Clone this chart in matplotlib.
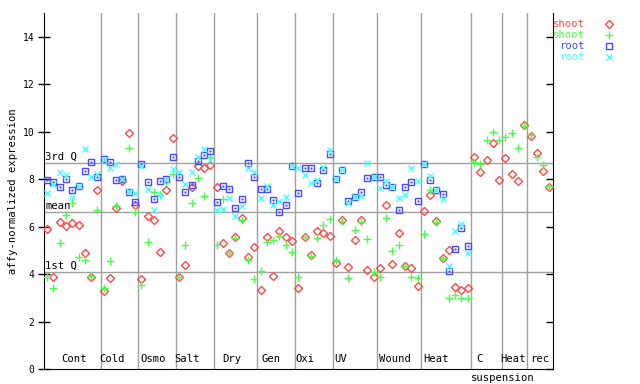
import matplotlib
matplotlib.use('Agg')
import matplotlib.pyplot as plt
import numpy as np

# groups along the x axis (one column per sample)
groups = ['Cont', 'Cold', 'Osmo', 'Salt', 'Dry', 'Gen', 'Oxi', 'UV', 'Wound', 'Heat', 'C', 'Heat', 'rec']
group_sizes = [9, 6, 6, 6, 7, 6, 6, 7, 7, 8, 5, 4, 4]

# shoot replicate 1 (red) and 2 (green)
shoot_a = [5.89, 3.87, 6.19, 6.02, 6.14, 6.06, 4.88, 3.87, 7.54,
           3.28, 3.82, 6.78, 7.92, 9.94, 6.90,
           3.78, 6.44, 6.27, 4.92, 7.54, 9.73,
           3.87, 4.37, 7.66, 8.55, 8.46, 8.59,
           7.66, 5.30, 4.88, 5.55, 6.35, 4.71, 5.13,
           3.32, 5.55, 3.91, 5.81, 5.55, 5.38,
           3.40, 5.55, 4.79, 5.81, 5.72, 5.60,
           4.46, 6.27, 4.29, 5.43, 6.27, 4.16, 3.87,
           4.25, 6.90, 4.41, 5.72, 4.34, 4.25, 3.49,
           6.65, 7.33, 6.22, 4.67, 5.00, 3.45, 3.32, 3.40,
           8.95, 8.29, 8.81, 9.52, 7.96,
           8.89, 8.21, 7.92, 10.28,
           9.81, 9.10, 8.34, 7.66]
shoot_b = [3.87, 3.40, 5.30, 6.48, 6.99, 4.71, 4.58, 3.91, 6.69,
           3.40, 4.54, 6.86, 8.00, 9.31, 6.61,
           3.53, 5.34, 7.46, 7.33, 7.87, 8.21,
           3.87, 5.22, 6.99, 8.04, 7.28, 8.93,
           5.22, 7.16, 4.88, 5.51, 6.27, 4.58, 3.78,
           4.12, 5.34, 5.43, 5.60, 5.22, 4.92,
           3.87, 5.55, 4.75, 5.51, 6.06, 6.31,
           4.58, 6.22, 3.82, 5.85, 6.19, 5.47, 4.08,
           3.87, 6.35, 4.96, 5.22, 4.34, 3.87, 3.82,
           5.68, 7.54, 6.19, 4.67, 2.98, 3.11, 2.98, 2.98,
           8.74, 8.63, 9.64, 9.98, 9.64,
           9.77, 9.94, 9.31, 10.24,
           9.86, 8.93, 8.59, 7.71]

# root replicate 1 (blue) and 2 (cyan) - no root samples for the last groups
root_a = [7.96, 7.87, 7.66, 8.00, 7.54, 7.71, 8.33, 8.72, 8.10,
          8.86, 8.72, 7.96, 8.00, 7.44, 7.03,
          8.63, 7.87, 7.16, 7.92, 8.00, 8.93,
          8.08, 7.45, 7.75, 8.76, 9.01, 9.18,
          7.03, 7.71, 7.58, 6.78, 7.16, 8.70, 8.08,
          7.58, 7.58, 7.11, 6.61, 6.90, 8.55,
          7.41, 8.46, 8.46, 7.83, 8.38, 9.05,
          8.01, 8.39, 7.07, 7.25, 7.45, 8.04, 8.07,
          8.08, 7.75, 7.65, 6.69, 7.66, 7.87, 7.07,
          8.63, 7.96, 7.54, 7.37, 4.12, 5.05, 5.93, 5.17]
root_b = [7.41, 7.81, 8.32, 8.18, 7.24, 7.70, 9.27, 8.08, 8.21,
          8.80, 8.46, 8.63, 8.00, 7.50, 7.41,
          8.54, 7.58, 6.69, 7.33, 7.96, 8.41,
          8.29, 7.79, 8.29, 8.93, 9.27, 8.80,
          6.69, 6.74, 7.20, 6.44, 6.86, 8.46, 8.29,
          7.20, 7.71, 6.90, 7.07, 7.24, 8.55,
          8.46, 8.17, 7.83, 7.96, 8.51, 9.22,
          8.01, 8.39, 6.99, 7.25, 7.28, 8.68, 8.07,
          7.62, 7.92, 7.65, 7.20, 7.33, 8.46, 7.92,
          8.63, 8.12, 7.54, 7.16, 4.34, 5.81, 6.13, 4.88]

q1, mean_val, q3 = 4.08, 6.61, 8.68

# where the group names sit (column units)
label_x = [4.25, 10.4, 16.9, 22.3, 29.4, 35.7, 41.1, 46.7, 55.4, 61.9, 68.8, 74.2, 78.5]

red, green, blue, cyan = '#ff4848', '#48ff48', '#4848ff', '#48ffff'
grid_c = '#a0a0a0'
mono = 'DejaVu Sans Mono'
fs = 7.6

fig = plt.figure(figsize=(6.4, 3.84), dpi=100)
ax = fig.add_axes([44 / 640, 1 - 369 / 384, 508.5 / 640, 356 / 384])

n = len(shoot_a)
ax.set_xlim(-0.5, n - 0.5)
ax.set_ylim(0, 15)

# quartile / mean lines
for v, lab in [(q3, '3rd Q'), (mean_val, 'mean'), (q1, '1st Q')]:
    ax.axhline(v, color=grid_c, lw=1, zorder=1)
    ax.text(0.002, v + 0.05, lab, transform=ax.get_yaxis_transform(),
            family=mono, fontsize=fs, va='bottom', ha='left', zorder=5)

# group separators and names
edges = np.cumsum(group_sizes)[:-1] - 0.5
for e in edges:
    ax.axvline(e, color=grid_c, lw=1, zorder=1)
for lx, g in zip(label_x, groups):
    ax.text(lx, 0.015, g, transform=ax.get_xaxis_transform(), family=mono,
            fontsize=fs, ha='center', va='bottom')
ax.text(72.5, -0.012, 'suspension', transform=ax.get_xaxis_transform(),
        family=mono, fontsize=fs, ha='center', va='top')

xs = np.arange(n)
xr = np.arange(len(root_a))
ax.plot(xs, shoot_a, ls='none', marker='D', ms=3.6, mfc='none', mec=red, mew=1.0, zorder=3)
ax.plot(xs, shoot_b, ls='none', marker='+', ms=5.5, mec=green, mew=1.0, zorder=3)
ax.plot(xr, root_a, ls='none', marker='s', ms=4.2, mfc='none', mec=blue, mew=1.0, zorder=3)
ax.plot(xr, root_a, ls='none', marker='s', ms=1.0, mfc=blue, mec=blue, mew=0.3, zorder=3)
ax.plot(xr, root_b, ls='none', marker='x', ms=4.2, mec=cyan, mew=1.0, zorder=3)

# legend drawn by hand at the right
leg = [('shoot', red, 'D', 3.6), ('shoot', green, '+', 5.5), ('root', blue, 's', 4.2), ('root', cyan, 'x', 4.2)]
for i, (t, c, m, s) in enumerate(leg):
    yy = 1 - (24 + 11 * i) / 384
    fig.text(585 / 640, yy, t, color=c, family=mono, fontsize=fs, ha='right', va='center')
    fig.lines.append(plt.Line2D([609 / 640], [yy], transform=fig.transFigure, ls='none', marker=m,
                                ms=s, mfc='none', mec=c, mew=1.0))

ax.spines['top'].set_visible(False)
ax.spines['right'].set_visible(False)
ax.set_xticks([])
ax.set_yticks(np.arange(0, 15, 2))
ax.tick_params(axis='y', direction='inout', length=8, width=1, labelsize=7, pad=3)
for lbl in ax.get_yticklabels():
    lbl.set_family(mono)

# right axis: inward ticks only, no labels
rax = ax.secondary_yaxis('right')
rax.set_yticks(np.arange(0, 15, 2))
rax.tick_params(direction='in', length=5, width=1, labelright=False)

ax.set_ylabel('affy-normalized expression', family=mono, fontsize=fs, labelpad=3)

fig.savefig('out.png', dpi=100)
